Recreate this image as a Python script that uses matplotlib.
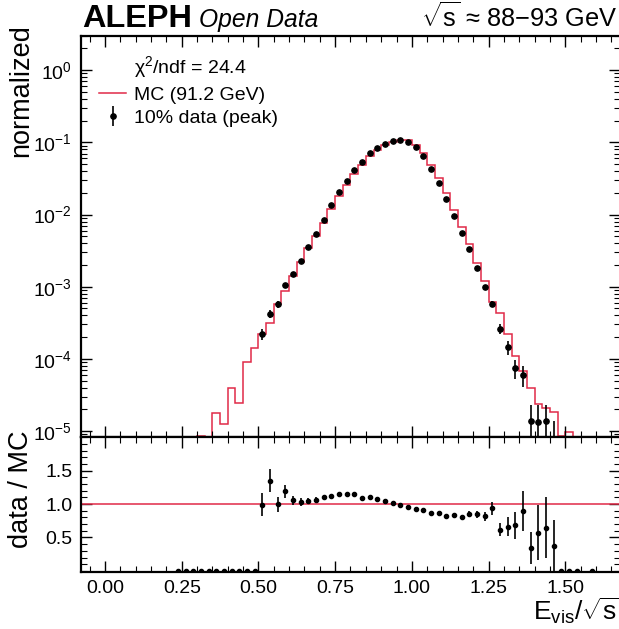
import matplotlib
matplotlib.use("Agg")
import matplotlib.pyplot as plt
import numpy as np
from matplotlib.lines import Line2D
from matplotlib.ticker import MultipleLocator, LogLocator, NullFormatter, FixedLocator

plt.rcParams["font.family"] = ["Liberation Sans", "DejaVu Sans"]
plt.rcParams["mathtext.fontset"] = "custom"
plt.rcParams["mathtext.rm"] = "Liberation Sans"
plt.rcParams["mathtext.it"] = "Liberation Sans:italic"
plt.rcParams["mathtext.bf"] = "Liberation Sans:bold"
plt.rcParams["mathtext.default"] = "regular"

# bins of E_vis/sqrt(s), width 0.025, from 0.225 to 1.6
bin_lo = 0.225
bin_hi = 1.6

# MC (91.2 GeV), normalized
mc = [3e-6, 3e-6, 3e-6, 8.5e-6, 4e-6, 1.80e-5, 1.24e-5, 3.92e-5, 2.47e-5, 9.14e-5,
      1.40e-4, 2.21e-4, 3.11e-4, 5.75e-4, 8.71e-4, 1.42e-3, 2.22e-3, 3.40e-3, 5.04e-3, 7.71e-3,
      1.20e-2, 1.80e-2, 2.56e-2, 3.61e-2, 4.85e-2, 6.38e-2, 7.82e-2, 9.08e-2, 0.102, 0.109,
      0.107, 9.20e-2, 7.05e-2, 4.90e-2, 3.17e-2, 1.96e-2, 1.15e-2, 6.78e-3, 3.90e-3, 2.15e-3,
      1.21e-3, 6.19e-4, 4.29e-4, 2.19e-4, 1.10e-4, 6.79e-5, 3.99e-5, 2.35e-5, 2.11e-5, 1.82e-5,
      8.5e-6, 9.6e-6, 4e-6, 0.0, 3e-6]

# 10% data (peak), normalized
data = [0, 0, 0, 0, 0, 0, 0, 0, 0, 0,
        0, 2.19e-4, 4.20e-4, 5.72e-4, 1.04e-3, 1.50e-3, 2.29e-3, 3.57e-3, 5.36e-3, 8.50e-3,
        1.34e-2, 2.06e-2, 2.93e-2, 4.17e-2, 5.30e-2, 7.02e-2, 8.47e-2, 9.50e-2, 0.104, 0.108,
        0.102, 8.51e-2, 6.39e-2, 4.28e-2, 2.74e-2, 1.62e-2, 9.59e-3, 5.51e-3, 3.32e-3, 1.82e-3,
        9.90e-4, 5.80e-4, 2.63e-4, 1.45e-4, 7.48e-5, 6.06e-5, 1.36e-5, 1.35e-5, 1.37e-5, 6.9e-6,
        0, 0, 0, 0, 0]

data_err = [0, 0, 0, 0, 0, 0, 0, 0, 0, 0,
            0, 3.86e-5, 5.34e-5, 6.24e-5, 8.41e-5, 1.01e-4, 1.25e-4, 1.56e-4, 1.91e-4, 2.40e-4,
            3.02e-4, 3.74e-4, 4.46e-4, 5.33e-4, 6.0e-4, 6.9e-4, 7.6e-4, 8.0e-4, 8.4e-4, 8.6e-4,
            8.3e-4, 7.6e-4, 6.6e-4, 5.4e-4, 4.3e-4, 3.3e-4, 2.55e-4, 1.94e-4, 1.50e-4, 1.11e-4,
            8.2e-5, 6.3e-5, 4.2e-5, 3.1e-5, 2.26e-5, 2.03e-5, 9.6e-6, 9.6e-6, 9.6e-6, 6.9e-6,
            0, 0, 0, 0, 0]

chi2_ndf = 24.4
red = "#e02a48"

edges = np.linspace(bin_lo, bin_hi, len(mc) + 1)
centers = 0.5 * (edges[1:] + edges[:-1])
mc = np.array(mc)
data = np.array(data)
data_err = np.array(data_err)

ratio = np.full(len(mc), np.nan)
ratio_err = np.full(len(mc), np.nan)
ok = mc > 0
ratio[ok] = data[ok] / mc[ok]
ratio_err[ok] = data_err[ok] / mc[ok]

fig = plt.figure(figsize=(6.19, 6.29), dpi=100)
left = 80.5 / 619
width = (620.5 - 80.5) / 619
ax = fig.add_axes([left, (629 - 437.3) / 629, width, (437.3 - 35.7) / 629])
rax = fig.add_axes([left, (629 - 571.7) / 629, width, (571.7 - 437.3) / 629], sharex=ax)

for a in (ax, rax):
    for s in a.spines.values():
        s.set_linewidth(1.6)
    a.tick_params(which="both", direction="in", top=True, right=True, labelsize=14, pad=6)
    a.tick_params(which="major", length=8, width=1.0)
    a.tick_params(which="minor", length=4, width=0.8)
    a.xaxis.set_major_locator(MultipleLocator(0.25))
    a.xaxis.set_minor_locator(MultipleLocator(0.05))

# main panel
ax.stairs(mc, edges, color=red, linewidth=1.1, baseline=None)
shown = data > 0
ax.errorbar(centers[shown], data[shown], yerr=data_err[shown], fmt="o", color="black",
            markersize=3.8, elinewidth=1.2, capsize=0)
ax.set_yscale("log")
ax.set_ylim(8.2e-6, 3.0)
ax.set_xlim(-0.08, 1.68)
ax.yaxis.set_major_locator(LogLocator(base=10, numticks=20))
ax.yaxis.set_minor_locator(LogLocator(base=10, subs=np.arange(2, 10), numticks=20))
ax.yaxis.set_minor_formatter(NullFormatter())
ax.tick_params(labelbottom=False)
ax.set_ylabel("normalized", fontsize=19.5, loc="top")
ax.yaxis.set_label_coords(-0.086, 1.03)

handles = [Line2D([], [], linestyle="none"),
           Line2D([], [], color=red, linewidth=1.1),
           ax.errorbar([], [], yerr=[], fmt="o", color="black", markersize=3.8, elinewidth=1.2)]
labels = [r"$\chi^2$/ndf = %.1f" % chi2_ndf, "MC (91.2 GeV)", "10% data (peak)"]
ax.legend(handles, labels, loc="upper left", frameon=False, fontsize=14,
          labelspacing=0.3, handlelength=1.4, handletextpad=0.4,
          bbox_to_anchor=(0.0, 1.0), borderaxespad=0.55)

ax.text(0.003, 1.0217, "ALEPH", transform=ax.transAxes, fontsize=23.4,
        fontweight="bold", va="baseline", ha="left")
ax.text(0.2196, 1.0217, "Open Data", transform=ax.transAxes, fontsize=17.7,
        style="italic", va="baseline", ha="left")
ax.text(0.9944, 1.0217, r"$\sqrt{s}$ ≈ 88−93 GeV", transform=ax.transAxes,
        fontsize=18.3, va="baseline", ha="right")

# ratio panel
rax.axhline(1.0, color=red, linewidth=1.1)
rax.errorbar(centers, ratio, yerr=ratio_err, fmt="o", color="black",
             markersize=3.0, elinewidth=1.2, capsize=0)
rax.set_ylim(-0.012, 2)
rax.yaxis.set_major_locator(FixedLocator([0.5, 1.0, 1.5]))
rax.yaxis.set_minor_locator(MultipleLocator(0.1))
rax.set_ylabel("data / MC", fontsize=19.5, loc="top")
rax.yaxis.set_label_coords(-0.086, 1.054)
rax.set_xlabel(r"$E_{vis}/\sqrt{s}$", fontsize=19, loc="right", labelpad=-1)

fig.savefig("out.png", dpi=100)
